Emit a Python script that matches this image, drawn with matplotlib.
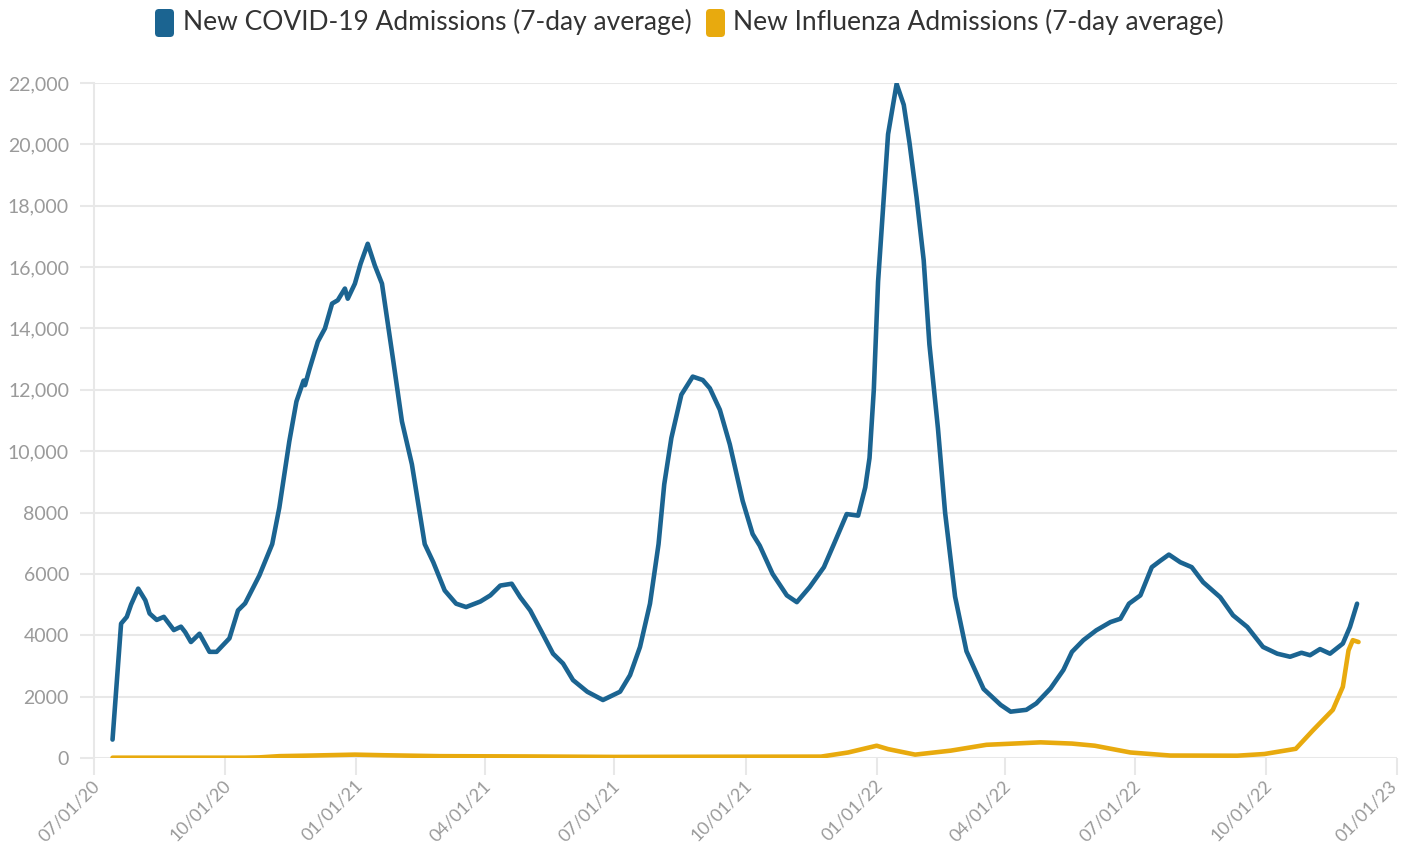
import matplotlib
matplotlib.use("Agg")
import matplotlib.pyplot as plt
import pandas as pd
from matplotlib.patches import FancyBboxPatch
from matplotlib.transforms import IdentityTransform, ScaledTranslation

plt.rcParams['font.family'] = ['Lato', 'DejaVu Sans']

# ---------------- data ----------------
covid_dates = [
    "2020-07-14", "2020-07-20", "2020-07-24", "2020-07-27", "2020-08-01", "2020-08-06",
    "2020-08-09", "2020-08-14", "2020-08-19", "2020-08-26", "2020-08-31", "2020-09-03",
    "2020-09-07", "2020-09-13", "2020-09-20", "2020-09-25", "2020-10-04", "2020-10-10",
    "2020-10-15", "2020-10-25", "2020-11-03", "2020-11-08", "2020-11-15", "2020-11-20",
    "2020-11-25", "2020-11-26", "2020-11-29", "2020-12-05", "2020-12-10", "2020-12-15",
    "2020-12-19", "2020-12-24", "2020-12-26", "2020-12-31", "2021-01-04", "2021-01-09",
    "2021-01-14", "2021-01-19", "2021-01-27", "2021-02-02", "2021-02-09", "2021-02-18",
    "2021-02-24", "2021-03-04", "2021-03-12", "2021-03-19", "2021-03-29", "2021-04-05",
    "2021-04-12", "2021-04-20", "2021-04-26", "2021-05-03", "2021-05-11", "2021-05-19",
    "2021-05-26", "2021-06-02", "2021-06-12", "2021-06-23", "2021-07-05", "2021-07-12",
    "2021-07-19", "2021-07-26", "2021-08-01", "2021-08-05", "2021-08-10", "2021-08-17",
    "2021-08-25", "2021-09-01", "2021-09-06", "2021-09-13", "2021-09-20", "2021-09-29",
    "2021-10-06", "2021-10-11", "2021-10-20", "2021-10-30", "2021-11-06", "2021-11-15",
    "2021-11-25", "2021-12-02", "2021-12-11", "2021-12-19", "2021-12-24", "2021-12-27",
    "2021-12-30", "2022-01-02", "2022-01-06", "2022-01-09", "2022-01-15", "2022-01-20",
    "2022-01-24", "2022-01-29", "2022-02-03", "2022-02-07", "2022-02-13", "2022-02-18",
    "2022-02-25", "2022-03-05", "2022-03-17", "2022-03-29", "2022-04-05", "2022-04-16",
    "2022-04-23", "2022-05-03", "2022-05-12", "2022-05-18", "2022-05-26", "2022-06-04",
    "2022-06-14", "2022-06-21", "2022-06-27", "2022-07-05", "2022-07-13", "2022-07-19",
    "2022-07-25", "2022-08-02", "2022-08-10", "2022-08-18", "2022-08-30", "2022-09-08",
    "2022-09-18", "2022-09-29", "2022-10-09", "2022-10-18", "2022-10-26", "2022-11-01",
    "2022-11-08", "2022-11-15", "2022-11-24", "2022-11-29", "2022-12-04",
]
covid_values = [
    600, 4380, 4600, 5000, 5520, 5140,
    4710, 4500, 4600, 4170, 4280, 4100,
    3780, 4050, 3460, 3460, 3900, 4810,
    5040, 5950, 6970, 8160, 10320, 11620,
    12300, 12150, 12650, 13570, 14000, 14810,
    14920, 15300, 14970, 15460, 16110, 16760,
    16050, 15460, 12920, 10970, 9570, 6970,
    6380, 5460, 5030, 4920, 5100, 5300,
    5620, 5680, 5240, 4810, 4110, 3400,
    3080, 2540, 2160, 1890, 2160, 2700,
    3620, 5030, 6970, 8920, 10430, 11840,
    12430, 12320, 12050, 11350, 10220, 8380,
    7300, 6920, 6000, 5300, 5080, 5570,
    6220, 6970, 7950, 7900, 8820, 9780,
    12000, 15530, 18270, 20330, 21970, 21290,
    20060, 18270, 16220, 13480, 10740, 8000,
    5260, 3480, 2250, 1730, 1510, 1570,
    1780, 2270, 2870, 3460, 3840, 4160,
    4430, 4540, 5030, 5300, 6220, 6430,
    6630, 6380, 6220, 5730, 5240, 4650,
    4270, 3620, 3400, 3300, 3430, 3350,
    3550, 3400, 3730, 4270, 5030,
]

flu_dates = [
    "2020-07-14", "2020-10-15", "2020-10-25", "2020-11-08", "2020-12-01", "2020-12-31",
    "2021-01-20", "2021-03-01", "2021-05-01", "2021-07-01", "2021-08-30", "2021-11-23",
    "2021-12-12", "2022-01-01", "2022-01-09", "2022-01-28", "2022-02-22", "2022-03-19",
    "2022-04-07", "2022-04-26", "2022-05-18", "2022-06-03", "2022-06-28", "2022-07-26",
    "2022-09-11", "2022-09-30", "2022-10-22", "2022-11-03", "2022-11-17", "2022-11-24",
    "2022-11-28", "2022-12-01", "2022-12-05",
]
flu_values = [
    10, 10, 20, 60, 80, 110,
    90, 60, 50, 35, 40, 45,
    180, 400, 290, 110, 240, 430,
    470, 510, 470, 400, 180, 80,
    75, 130, 300, 900, 1570, 2320,
    3510, 3840, 3780,
]

y_ticks = [0, 2000, 4000, 6000, 8000, 10000, 12000, 14000, 16000, 18000, 20000, 22000]
y_tick_labels = ["0", "2000", "4000", "6000", "8000", "10,000", "12,000", "14,000",
                 "16,000", "18,000", "20,000", "22,000"]
x_ticks = ["2020-07-01", "2020-10-01", "2021-01-01", "2021-04-01", "2021-07-01",
           "2021-10-01", "2022-01-01", "2022-04-01", "2022-07-01", "2022-10-01",
           "2023-01-01"]
x_tick_labels = ["07/01/20", "10/01/20", "01/01/21", "04/01/21", "07/01/21", "10/01/21",
                 "01/01/22", "04/01/22", "07/01/22", "10/01/22", "01/01/23"]
series_names = ["New COVID-19 Admissions (7-day average)",
                "New Influenza Admissions (7-day average)"]

# ---------------- style ----------------
COVID_COLOR = "#1b6491"
FLU_COLOR = "#e8aa0e"
GRID = "#e8e8e8"
TICK_TXT = "#9a9a9a"

W, H = 1403, 848
fig = plt.figure(figsize=(W / 100, H / 100), dpi=100)
ax = fig.add_axes([94 / W, 1 - 758 / H, (1397 - 94) / W, (758 - 83) / H])

ax.plot(pd.to_datetime(flu_dates), flu_values, color=FLU_COLOR, lw=3.3,
        solid_joinstyle='round', solid_capstyle='round', zorder=3)
ax.plot(pd.to_datetime(covid_dates), covid_values, color=COVID_COLOR, lw=3.3,
        solid_joinstyle='round', solid_capstyle='round', zorder=4)

ax.set_xlim(pd.Timestamp("2020-07-01"), pd.Timestamp("2023-01-01"))
ax.set_ylim(0, 22000)

for s in ["top", "right", "bottom"]:
    ax.spines[s].set_visible(False)
ax.spines["left"].set_color(GRID)
ax.spines["left"].set_linewidth(1.5)

ax.set_yticks(y_ticks)
ax.set_yticklabels(y_tick_labels)
ax.yaxis.grid(True, color=GRID, lw=1.5)
ax.set_axisbelow(True)
ax.tick_params(axis='y', length=10, width=1.5, color=GRID, pad=8,
               labelsize=14, labelcolor=TICK_TXT)

ax.set_xticks(pd.to_datetime(x_ticks))
ax.set_xticklabels(x_tick_labels)
ax.tick_params(axis='x', length=12, width=1.5, color=GRID, pad=2,
               labelsize=13, labelcolor=TICK_TXT)
labels = ax.get_xticklabels()
for i, lab in enumerate(labels):
    dx = 9 if i < len(labels) - 1 else 3
    lab.set_rotation(45)
    lab.set_ha('right')
    lab.set_transform(lab.get_transform() +
                      ScaledTranslation(dx / 100, 0, fig.dpi_scale_trans))

# ---------------- legend ----------------
def legend_item(x_box, x_text, color, text):
    box = FancyBboxPatch((x_box, H - 37), 19, 28,
                         boxstyle="round,pad=0,rounding_size=4",
                         transform=IdentityTransform(), facecolor=color,
                         edgecolor='none')
    fig.patches.append(box)
    fig.text(x_text / W, 1 - 22 / H, text, ha='left', va='center',
             fontsize=19, color='#333333')

legend_item(155, 183, COVID_COLOR, series_names[0])
legend_item(706, 733, FLU_COLOR, series_names[1])

fig.savefig("out.png", dpi=100, facecolor='white')
